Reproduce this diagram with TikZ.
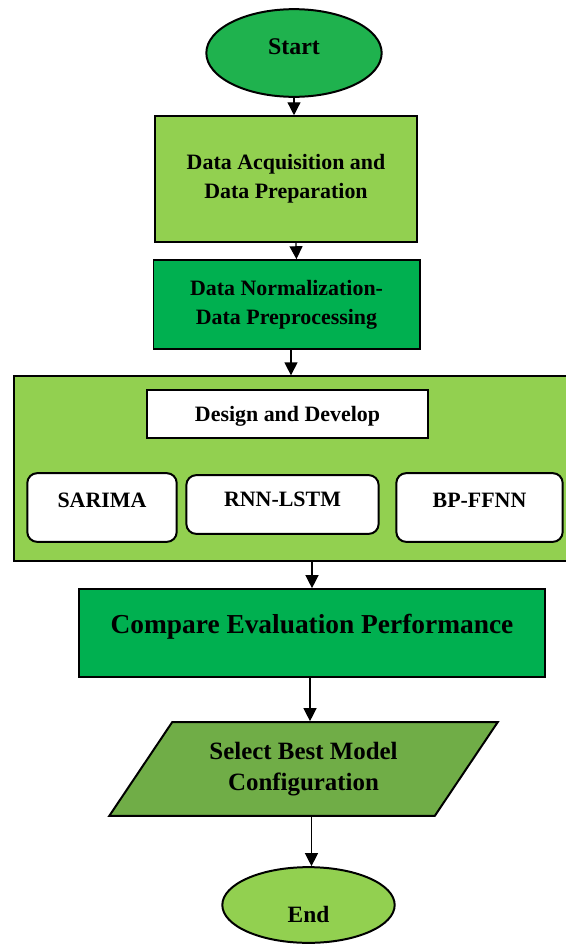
\documentclass[tikz,border=0pt]{standalone}
\usepackage{fontspec}
\setmainfont{Liberation Serif}
\usetikzlibrary{shapes.geometric,arrows.meta}

\definecolor{lightgrn}{HTML}{92D050}
\definecolor{midgrn}{HTML}{00B050}
\definecolor{startgrn}{HTML}{1FB24E}
\definecolor{olivegrn}{HTML}{70AD47}

\tikzset{
  base/.style={draw=black, line width=2pt, inner sep=0pt, font=\bfseries\fontsize{22}{29}\selectfont, align=center},
  procbox/.style={base, rectangle},
  modelbox/.style={base, rectangle, rounded corners=10pt, fill=white},
  terminal/.style={base, ellipse},
  arr/.style={line width=1.3pt, -{Triangle[width=13pt,length=13pt]}}
}

\begin{document}
\begin{tikzpicture}[x=1bp, y=-1bp]
  \useasboundingbox (0,0) rectangle (566,944);

  % start terminal
  \node[terminal, fill=startgrn, minimum width=176, minimum height=88,
        font=\bfseries\fontsize{24}{29}\selectfont, text height=10pt, text depth=6pt]
        (start) at (294,53) {Start};

  % data preparation steps
  \node[procbox, fill=lightgrn, minimum width=262, minimum height=126]
        (acq) at (286,179) {Data Acquisition and\\Data Preparation};
  \node[procbox, fill=midgrn, minimum width=267, minimum height=89]
        (norm) at (286.5,304.5) {Data Normalization-\\Data Preprocessing};

  % model design block (runs past the right edge of the page)
  \node[procbox, fill=lightgrn, minimum width=565, minimum height=185]
        (design) at (295,468.5) {};
  \node[procbox, fill=white, minimum width=283, minimum height=48,
        text height=16pt, text depth=0pt]
        (develop) at (287.5,414) {Design and Develop};
  \node[modelbox, minimum width=150, minimum height=69, text height=8pt, text depth=8pt]
        (sarima) at (102,507.5) {SARIMA};
  \node[modelbox, minimum width=193, minimum height=59, text height=10pt, text depth=5pt]
        (rnn) at (282.5,504.5) {RNN-LSTM};
  \node[modelbox, minimum width=167, minimum height=69, text height=8pt, text depth=8pt]
        (bp) at (479.5,507.5) {BP-FFNN};

  % evaluation and selection
  \node[procbox, fill=midgrn, minimum width=468, minimum height=88,
        font=\bfseries\fontsize{27.5}{32}\selectfont, text height=10pt, text depth=10pt]
        (compare) at (312,633) {Compare Evaluation Performance};
  \node[base, trapezium, trapezium left angle=50, trapezium right angle=130,
        trapezium stretches=true, fill=olivegrn, minimum width=391, minimum height=94,
        font=\bfseries\fontsize{25}{31}\selectfont]
        (select) at (303.5,769) {Select Best Model\\Configuration};

  % end terminal
  \node[terminal, fill=lightgrn, minimum width=173, minimum height=76,
        font=\bfseries\fontsize{23.5}{29}\selectfont, text height=36pt, text depth=0pt]
        (end) at (308.5,905) {End};

  % flow connectors
  \draw[arr] (start.south) -- (start.south |- acq.north);
  \draw[arr] ([xshift=10pt]acq.south) -- ([xshift=10pt]norm.north);
  \draw[arr] ([xshift=4.5pt]norm.south) -- ([xshift=4.5pt]norm.south |- design.north);
  \draw[arr] (compare.north |- design.south) -- (compare.north);
  \draw[arr] ([xshift=-2pt]compare.south) -- ([xshift=-2pt]compare.south |- select.north);
  \draw[arr] ([xshift=3pt]end.north |- select.south) -- ([xshift=3pt]end.north);
\end{tikzpicture}
\end{document}
